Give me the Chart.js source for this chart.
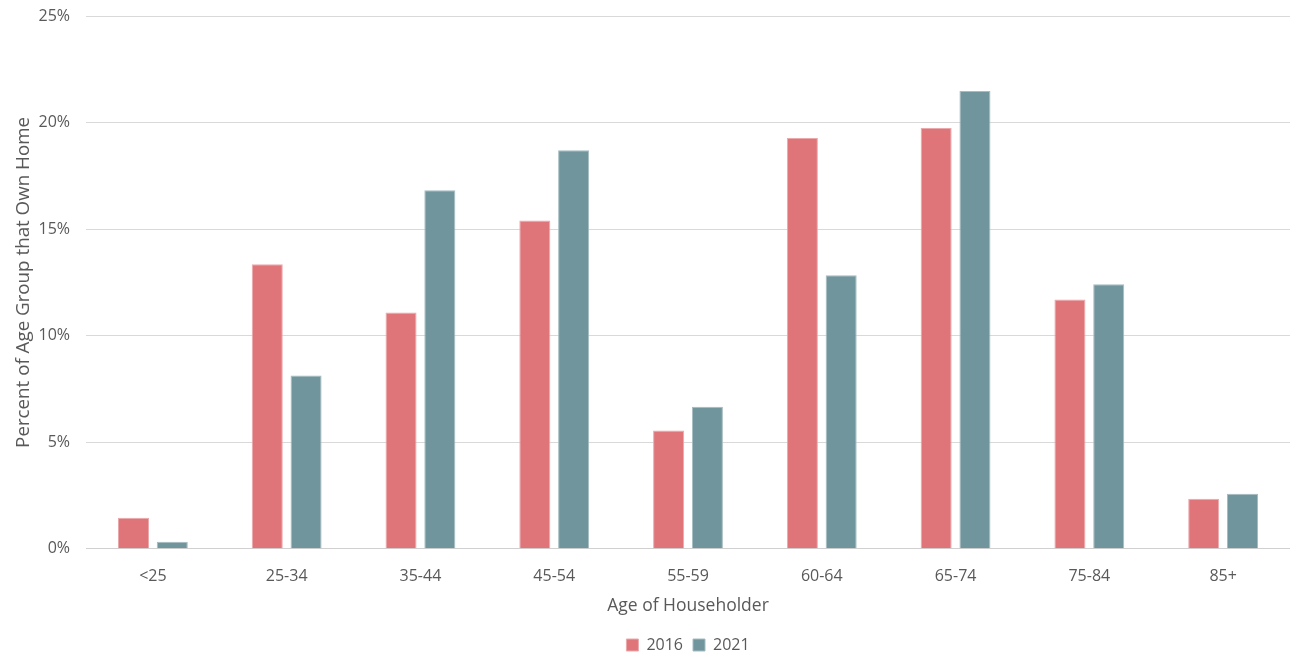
<!DOCTYPE html>
<html>
<head>
<meta charset="utf-8">
<script src="https://cdn.jsdelivr.net/npm/chart.js@4"></script>
<style>
  html, body { margin: 0; padding: 0; background: #ffffff; }
  #wrap { width: 1290px; height: 654px; }
</style>
</head>
<body>
<div id="wrap"><canvas id="chart" width="1290" height="654"></canvas></div>
<script>
const categories = ['<25', '25-34', '35-44', '45-54', '55-59', '60-64', '65-74', '75-84', '85+'];
const values2016 = [1.46, 13.35, 11.09, 15.41, 5.55, 19.27, 19.74, 11.70, 2.35];
const values2021 = [0.33, 8.13, 16.82, 18.70, 6.67, 12.83, 21.48, 12.41, 2.58];
const seriesLabels = ['2016', '2021'];

const fontFamily = '"Open Sans", "Noto Sans", sans-serif';
const textColor = '#595959';

new Chart(document.getElementById('chart'), {
  type: 'bar',
  data: {
    labels: categories,
    datasets: [
      {
        label: seriesLabels[0],
        data: values2016,
        backgroundColor: '#DF7479',
        borderColor: '#EBA9AC',
        borderWidth: 1
      },
      {
        label: seriesLabels[1],
        data: values2021,
        backgroundColor: '#71959C',
        borderColor: '#A5BCC1',
        borderWidth: 1
      }
    ]
  },
  options: {
    responsive: false,
    animation: false,
    layout: { padding: { top: 0, right: 0, left: 12, bottom: -9 } },
    datasets: {
      bar: { categoryPercentage: 0.58, barPercentage: 0.8 }
    },
    scales: {
      x: {
        grid: { display: false },
        border: { display: true, color: '#D0D0D0', width: 1 },
        ticks: { color: textColor, font: { family: fontFamily, size: 16 }, padding: 10 },
        title: {
          display: true,
          text: 'Age of Householder',
          color: textColor,
          font: { family: fontFamily, size: 17.5 },
          padding: { top: 0, bottom: 10 }
        }
      },
      y: {
        min: 0,
        max: 25,
        // fixed axis width and top inset so the plot starts where the 25% label sits
        afterFit: scale => { scale.width = 74; scale.paddingTop = 16; },
        grid: { color: '#D9D9D9', lineWidth: 1, drawTicks: false },
        border: { display: false },
        ticks: {
          stepSize: 5,
          color: textColor,
          font: { family: fontFamily, size: 16 },
          padding: 16,
          callback: v => v + '%'
        },
        title: {
          display: true,
          text: 'Percent of Age Group that Own Home',
          color: textColor,
          font: { family: fontFamily, size: 18.75 },
          padding: { top: 0, bottom: 4 }
        }
      }
    },
    plugins: {
      legend: {
        position: 'bottom',
        fullSize: false,
        labels: {
          boxWidth: 12,
          boxHeight: 12,
          padding: 10,
          color: textColor,
          font: { family: fontFamily, size: 16 }
        }
      },
      tooltip: { enabled: false }
    }
  }
});
</script>
</body>
</html>
